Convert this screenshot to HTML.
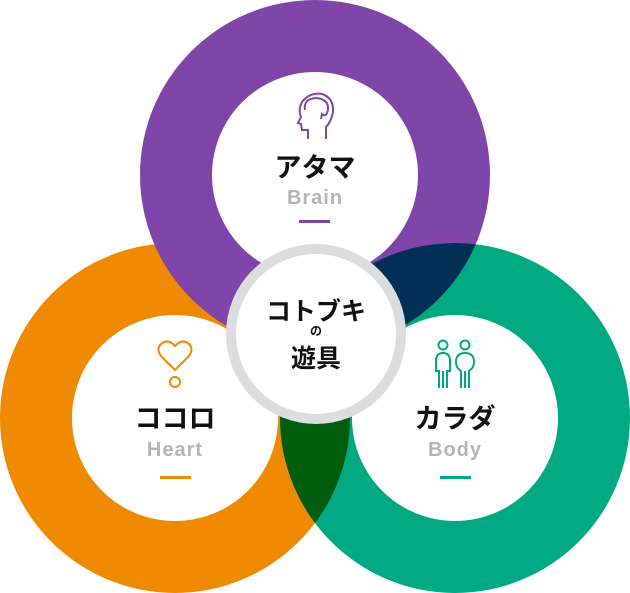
<!DOCTYPE html>
<html><head><meta charset="utf-8"><style>
html,body{margin:0;padding:0;background:#fff}
svg{display:block}
text{font-family:"Liberation Sans","Noto Sans CJK JP",sans-serif;font-weight:bold;text-anchor:middle}
</style></head><body>
<svg width="630" height="593" viewBox="0 0 630 593" xmlns="http://www.w3.org/2000/svg">
<defs>
<clipPath id="cp"><circle cx="315" cy="175" r="175"/></clipPath>
<clipPath id="co"><circle cx="175" cy="418" r="175"/></clipPath>
</defs>
<circle cx="175" cy="418" r="175" fill="#ef8a00"/>
<circle cx="315" cy="175" r="175" fill="#8045a8"/>
<circle cx="455" cy="418" r="175" fill="#00a982"/>
<circle cx="455" cy="418" r="175" fill="#022f56" clip-path="url(#cp)"/>
<circle cx="455" cy="418" r="175" fill="#005d0e" clip-path="url(#co)"/>
<circle cx="315" cy="175" r="103" fill="#fff"/>
<circle cx="175" cy="418" r="103" fill="#fff"/>
<circle cx="455" cy="418" r="103" fill="#fff"/>
<circle cx="316" cy="334" r="85" fill="#fff" stroke="#dcdddf" stroke-width="10"/>

<g fill="none" stroke="#8045a8" stroke-width="2">
<path d="M308,139 L308,130 L302,130 L301,124 L298,123 L301,117 Q298,110 302,102 Q310,92 322,94 Q334,98 333,112 Q331,122 326,127 L326,139"/>
<path d="M305,110 Q303,99 316,98 Q329,99 328,110 Q326,118 322,114 L321,119"/>
</g>
<text x="315" y="177" font-size="27" fill="#111">アタマ</text>
<text x="315" y="204" font-size="20" fill="#b4b4b4" letter-spacing="1">Brain</text>
<rect x="299" y="220" width="31" height="3" fill="#8045a8"/>

<g fill="none" stroke="#ef8a00" stroke-width="2">
<path d="M175,370 L161,356 Q156,349 161,344 Q168,338 175,346 Q182,338 189,344 Q194,349 189,356 Z"/>
<circle cx="175" cy="382" r="5"/>
</g>
<text x="175" y="428" font-size="27" fill="#111">ココロ</text>
<text x="175" y="456" font-size="20" fill="#b4b4b4" letter-spacing="1">Heart</text>
<rect x="160" y="476" width="31" height="3" fill="#ef8a00"/>

<g fill="none" stroke="#00a982" stroke-width="2">
<circle cx="443" cy="345" r="4.5"/>
<circle cx="465" cy="345" r="4.5"/>
<path d="M439,388 L439,371 L436,371 L436,361 Q436,353 443,353 Q450,353 450,361 L450,371 L447,371 L447,388 M443,371 L443,388"/>
<path d="M461,388 L461,371 Q456,368 456,362 Q456,353 465,353 Q474,353 474,362 Q474,368 469,371 L469,388 M465,371 L465,388"/>
</g>
<text x="455" y="428" font-size="27" fill="#111">カラダ</text>
<text x="455" y="456" font-size="20" fill="#b4b4b4" letter-spacing="1">Body</text>
<rect x="440" y="476" width="31" height="3" fill="#00a982"/>

<text x="316" y="320" font-size="25" fill="#111" font-weight="900">コトブキ</text>
<text x="316" y="335" font-size="12" fill="#111">の</text>
<text x="316" y="367" font-size="25" fill="#111" font-weight="900">遊具</text>
</svg>
</body></html>
